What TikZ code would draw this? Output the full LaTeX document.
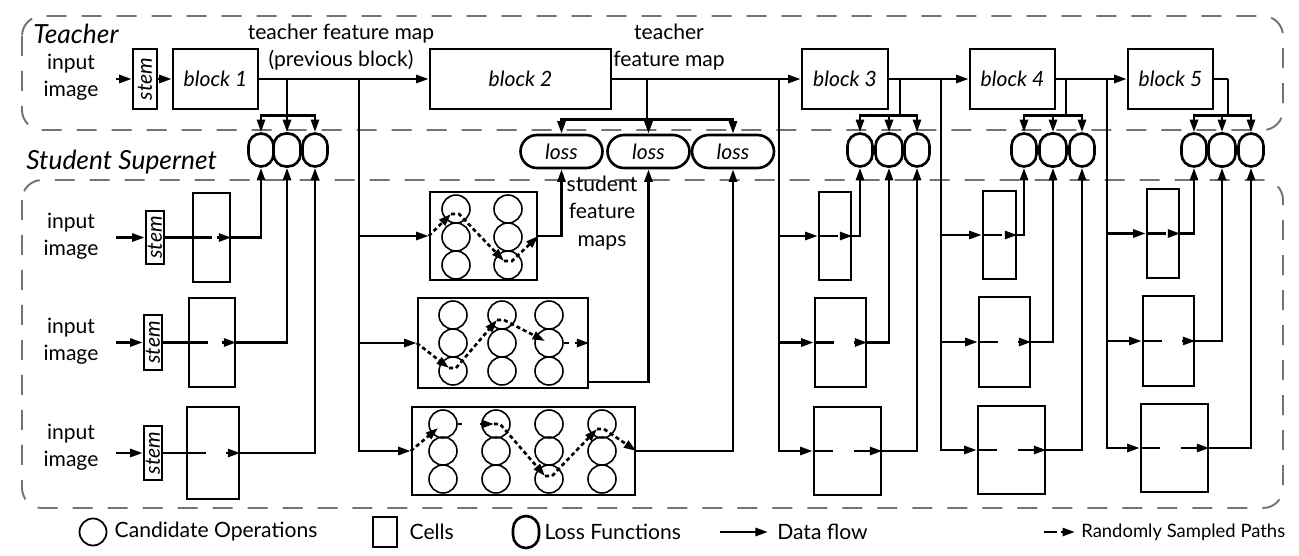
\documentclass[tikz,border=0pt]{standalone}
\usepackage{fontspec}
\setmainfont{Lato}
\usepackage{graphicx}
\usetikzlibrary{arrows.meta,positioning,calc}

\begin{document}
\begin{tikzpicture}
[x=0.02cm,y=-0.02cm,line width=1.5pt,
 font=\fontsize{12}{15.5}\selectfont,
 flow/.style={-{Triangle[length=0.25cm,width=0.16cm]}},
 sample/.style={flow,dash pattern=on 2.3pt off 1.7pt},
 zone/.style={draw=black!55,line width=1.1pt,dash pattern=on 0.4cm off 0.3cm,rounded corners=0.4cm},
 heading/.style={inner sep=0pt,anchor=west,font=\fontsize{15}{18}\selectfont\itshape},
 block/.style={draw,minimum height=1.2cm,inner sep=0pt,font=\fontsize{12}{15}\selectfont\itshape},
 stem/.style={draw,inner sep=0pt,font=\fontsize{12}{15}\selectfont\itshape},
 cell/.style={draw,inner sep=0pt},
 op/.style={draw,circle,line width=0.9pt,minimum size=0.56cm,inner sep=0pt},
 lossfn/.style={draw,rounded corners=0.25cm,minimum width=0.5cm,minimum height=0.66cm,inner sep=0pt},
 loss/.style={draw,rounded corners=0.33cm,minimum width=1.64cm,minimum height=0.66cm,inner sep=0pt,font=\fontsize{12}{15}\selectfont\itshape},
 txt/.style={align=center,inner sep=0pt},
 inimg/.style={text width=1.36cm,align=center,inner xsep=0.2cm,inner ysep=0pt}]

  \useasboundingbox (0,0) rectangle (1299,555);

  % frames
  \draw[zone] (22,16) rectangle (1283,130);
  \draw[zone] (22,180) rectangle (1283,508);
  \node[heading] (tch) at (32,34) {Teacher};
  \node[heading] (stu) at (25,162) {Student Supernet};

  % teacher
  \node[inimg] (in0) at (71,77) {input\\image};
  \node[stem,minimum width=0.48cm,minimum height=1.2cm] (st0) at (145,79) {\rotatebox{90}{stem}};
  \node[block,minimum width=1.7cm] (b1) at (215.5,79) {block 1};
  \node[block,minimum width=3.62cm] (b2) at (520.5,79) {block 2};
  \node[block,minimum width=1.72cm] (b3) at (845,79) {block 3};
  \node[block,minimum width=1.7cm] (b4) at (1012.5,79) {block 4};
  \node[block,minimum width=1.7cm] (b5) at (1170.5,79) {block 5};

  \node[txt] (tfm1) at (341,47) {teacher feature map\\(previous block)};
  \node[txt] (tfm2) at (669,47) {teacher\\feature map};
  \node[txt] (sfm) at (602,213) {student\\feature\\maps};

  \draw[flow] (in0.east |- st0) -- (st0);
  \draw[flow] (st0) -- (b1);
  \draw[flow] (b1) -- (b2);
  \draw[flow] (b2) -- (b3);
  \draw[flow] (b3) -- (b4);
  \draw[flow] (b4) -- (b5);

  \coordinate (t1) at (287,79);
  \coordinate (t2) at (647,79);
  \coordinate (t3) at (900,79);
  \coordinate (t4) at (1066,79);
  \coordinate (t5) at (1228,79);
  \coordinate (f2) at (359,79);
  \coordinate (f3) at (779,79);
  \coordinate (f4) at (941,79);
  \coordinate (f5) at (1107,79);
  \draw (b5.east) -- (t5);

  % loss functions
  \foreach \b/\xa/\xb/\xc in {1/261/287/315, 3/860/889/917, 4/1024/1053/1082, 5/1194/1222/1251}
  {
    \node[lossfn] (o\b1) at (\xa,150) {};
    \node[lossfn,minimum width=0.54cm] (o\b2) at (\xb,150) {};
    \node[lossfn] (o\b3) at (\xc,150) {};
    \foreach \k in {1,2,3}
      \draw[flow] (t\b) |- ([yshift=0.33cm]o\b\k.north) -- (o\b\k.north);
  }
  \node[loss] (l1) at (561.5,151.5) {loss};
  \node[loss] (l2) at (648.5,151.5) {loss};
  \node[loss] (l3) at (733,151.5) {loss};
  \foreach \k in {1,2,3}
    \draw[flow] (t2) |- ([yshift=0.28cm]l\k.north) -- (l\k.north);

  % student, stem column
  \node[inimg] (in1) at (71,236) {input\\image};
  \node[inimg] (in2) at (71,341) {input\\image};
  \node[inimg] (in3) at (71,447) {input\\image};
  \node[stem,minimum width=0.36cm,minimum height=1.06cm] (st1) at (155,237.5) {\rotatebox{90}{stem}};
  \node[stem,minimum width=0.36cm,minimum height=1.1cm] (st2) at (153,342.5) {\rotatebox{90}{stem}};
  \node[stem,minimum width=0.36cm,minimum height=1.08cm] (st3) at (153,453) {\rotatebox{90}{stem}};
  \node[cell,minimum width=0.74cm,minimum height=1.78cm] (s11) at (211.5,237.5) {};
  \node[cell,minimum width=0.92cm,minimum height=1.78cm] (s12) at (212,342.5) {};
  \node[cell,minimum width=1.04cm,minimum height=1.84cm] (s13) at (213,453) {};
  \foreach \r in {1,2,3}
  {
    \draw[flow] (in\r.east |- st\r) -- (st\r);
    \draw (st\r) -- ([xshift=0.4cm]s1\r.west);
    \draw[flow] ([xshift=-0.28cm]s1\r.east) -- (s1\r.east);
    \draw[flow] (s1\r.east) -| (o1\r.south);
  }

  % student, block 2 column
  \node[cell,minimum width=2.14cm,minimum height=1.76cm] (m1) at (483.5,236) {};
  \node[cell,minimum width=3.4cm,minimum height=1.8cm] (m2) at (503,343) {};
  \node[cell,minimum width=4.46cm,minimum height=1.76cm] (m3) at (523.5,451) {};
  \foreach \c/\x in {1/456,2/508}
    \foreach \r/\y in {1/209,2/237,3/265}
      \node[op] (m1c\c\r) at (\x,\y) {};
  \foreach \c/\x in {1/453,2/502,3/549}
    \foreach \r/\y in {1/315,2/343,3/371}
      \node[op] (m2c\c\r) at (\x,\y) {};
  \foreach \c/\x in {1/443,2/496,3/549,4/602}
    \foreach \r/\y in {1/424,2/451,3/479}
      \node[op] (m3c\c\r) at (\x,\y) {};
  \foreach \m in {m1,m2,m3}
    \draw[flow] (f2) |- (\m.west);

  % sampled paths
  \coordinate (p11) at ($(m1c11)+(-5,5)$);
  \coordinate (p12) at ($(m1c23)+(-4,-4)$);
  \draw[sample] (m1.west) -- (p11);
  \draw[sample] (p11) -- ++(8,0) -- (p12);
  \draw[sample] (p12) -- ++(8,0) -- (m1.east);
  \draw[flow] (m1.east) -| (l1.south);

  \coordinate (p21) at ($(m2c13)+(-4,-3)$);
  \coordinate (p22) at ($(m2c21)+(-5,5)$);
  \coordinate (p23) at ($(m2c32)+(-4,-2)$);
  \draw[sample] (m2.west) -- (p21);
  \draw[sample] (p21) -- ++(7,0) -- (p22);
  \draw[sample] (p22) -- ++(7,0) -- (p23);
  \draw (m2c32) -- ++(20,0);
  \draw[flow] ([xshift=-0.28cm]m2.east) -- (m2.east);
  \draw[flow] ([yshift=-0.78cm]m2.east) -| (l2.south);

  \coordinate (p31) at ($(m3c11)+(-5,4)$);
  \coordinate (p32) at ($(m3c21)+(-2,0)$);
  \coordinate (p33) at ($(m3c33)+(-4,-3)$);
  \coordinate (p34) at ($(m3c41)+(-5,5)$);
  \draw[sample] (m3.west) -- (p31);
  \draw (m3c11) -- ++(19,0);
  \draw[flow] ($(m3c21)+(-16,0)$) -- (p32);
  \draw[sample] (p32) -- ++(6,0) -- (p33);
  \draw[sample] (p33) -- ++(7,0) -- (p34);
  \draw[sample] (p34) -- ++(7,0) -- (m3.east);
  \draw[flow] (m3.east) -| (l3.south);

  % student, blocks 3 to 5
  \node[cell,minimum width=0.64cm,minimum height=1.76cm] (s31) at (835,236) {};
  \node[cell,minimum width=1.02cm,minimum height=1.78cm] (s32) at (840.5,342.5) {};
  \node[cell,minimum width=1.34cm,minimum height=1.76cm] (s33) at (847.5,451) {};
  \node[cell,minimum width=0.66cm,minimum height=1.76cm] (s41) at (999.5,235) {};
  \node[cell,minimum width=1.02cm,minimum height=1.8cm] (s42) at (1004.5,342) {};
  \node[cell,minimum width=1.34cm,minimum height=1.76cm] (s43) at (1011.5,450) {};
  \node[cell,minimum width=0.64cm,minimum height=1.78cm] (s51) at (1163,233.5) {};
  \node[cell,minimum width=1.02cm,minimum height=1.8cm] (s52) at (1168.5,341) {};
  \node[cell,minimum width=1.34cm,minimum height=1.76cm] (s53) at (1174.5,448) {};
  \foreach \b in {3,4,5}
    \foreach \r/\len in {1/0.24cm,2/0.26cm,3/0.56cm}
    {
      \draw[flow] (f\b) |- (s\b\r.west);
      \draw (s\b\r.west) -- ++(20,0);
      \draw[flow] ([xshift=-\len]s\b\r.east) -- (s\b\r.east);
      \draw[flow] (s\b\r.east) -| (o\b\r.south);
    }

  % legend
  \node[op,line width=1pt,minimum size=0.54cm] (lg1) at (93,532) {};
  \node[right=0.12cm of lg1,inner sep=0pt] (lt1) {Candidate Operations};
  \node[cell,minimum width=0.48cm,minimum height=0.6cm] (lg2) at (385,532) {};
  \node[right=0.2cm of lg2,inner sep=0pt] (lt2) {Cells};
  \node[lossfn,minimum width=0.52cm,minimum height=0.64cm,rounded corners=0.26cm] (lg3) at (526,532) {};
  \node[right=0.06cm of lg3,inner sep=0pt] (lt3) {Loss Functions};
  \coordinate (lg4) at (720,532);
  \node[right=1.12cm of lg4,inner sep=0pt] (lt4) {Data flow};
  \draw[flow] (lg4) -- ([xshift=-0.16cm]lt4.west);
  \coordinate (lg5) at (1044,532);
  \node[right=0.72cm of lg5,inner sep=0pt,font=\fontsize{10.5}{13}\selectfont] (lt5) {Randomly Sampled Paths};
  \draw[flow,dash pattern=on 0.26cm off 0.08cm] (lg5) -- ([xshift=-0.1cm]lt5.west);
\end{tikzpicture}
\end{document}
